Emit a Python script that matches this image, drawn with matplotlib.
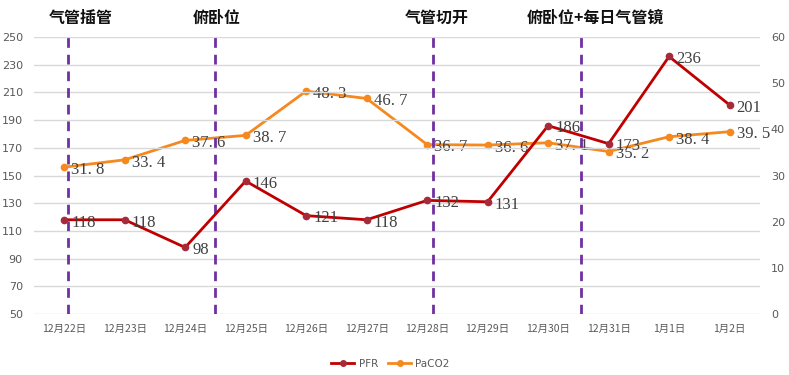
import matplotlib
matplotlib.use("Agg")
import matplotlib.pyplot as plt
from matplotlib.lines import Line2D

dates = ["12月22日", "12月23日", "12月24日", "12月25日", "12月26日", "12月27日",
         "12月28日", "12月29日", "12月30日", "12月31日", "1月1日", "1月2日"]
pfr = [118, 118, 98, 146, 121, 118, 132, 131, 186, 173, 236, 201]
paco2 = [31.8, 33.4, 37.6, 38.7, 48.3, 46.7, 36.7, 36.6, 37.1, 35.2, 38.4, 39.5]
event_pos = [0.07, 2.5, 6.1, 8.55]
event_labels = ["气管插管", "俯卧位", "气管切开", "俯卧位+每日气管镜"]
event_label_start = [-0.26, 2.13, 5.64, 7.65]
left_ticks = list(range(50, 251, 20))
right_ticks = list(range(0, 61, 10))

cjk = ["Noto Sans CJK SC", "DejaVu Sans"]
red = "#C00000"
red_m = "#A52A3A"
orange = "#F5891F"
purple = "#7030A0"

fig = plt.figure(figsize=(7.89, 3.75), dpi=100)
ax = fig.add_axes([0.043, 0.163, 0.920, 0.738])
ax2 = ax.twinx()

x = list(range(len(dates)))
ax.set_xlim(-0.5, len(dates) - 0.5)
ax.set_ylim(50, 250)
ax2.set_ylim(0, 60)
ax.set_yticks(left_ticks)
ax2.set_yticks(right_ticks)
for a in (ax, ax2):
    for s in a.spines.values():
        s.set_visible(False)
    a.tick_params(length=0, labelsize=8, colors="#595959")
ax.grid(axis="y", color="#D9D9D9", linewidth=1)
ax.set_axisbelow(True)
ax.set_xticks(x)
ax.set_xticklabels(dates, fontfamily=cjk, fontsize=7.5, color="#595959")
ax.tick_params(axis="x", pad=7)
ax.tick_params(axis="y", pad=8)
ax2.tick_params(axis="y", pad=8)

ax2.set_zorder(ax.get_zorder() - 1)
ax.patch.set_visible(False)

for p in event_pos:
    ax.axvline(p, color=purple, linestyle=(0, (3.5, 2.5)), linewidth=2, zorder=1)
for p, lab in zip(event_label_start, event_labels):
    ax.text(p, 1.07, lab, transform=ax.get_xaxis_transform(), fontfamily=cjk,
            fontsize=11.5, fontweight="bold", ha="left", va="center", color="#111111")

ax.plot(x, pfr, color=red, linewidth=2, marker="o", markersize=4.5,
        markerfacecolor=red_m, markeredgecolor=red_m, zorder=3)
ax2.plot(x, paco2, color=orange, linewidth=2, marker="o", markersize=4.5,
         markerfacecolor=orange, markeredgecolor=orange, zorder=3)

for xi, v in zip(x, pfr):
    ax.annotate(str(v), (xi, v), xytext=(5, -2), textcoords="offset points",
                fontfamily="Liberation Serif", fontsize=12, color="#404040",
                ha="left", va="center", zorder=4)
for xi, v in zip(x, paco2):
    ax2.annotate(f"{v:.1f}".replace(".", ". "), (xi, v), xytext=(5, -2),
                 textcoords="offset points", fontfamily="Liberation Serif",
                 fontsize=12, color="#404040", ha="left", va="center", zorder=4)

handles = [Line2D([], [], color=red, marker="o", markersize=4, markerfacecolor=red_m,
                  markeredgecolor=red_m, linewidth=2),
           Line2D([], [], color=orange, marker="o", markersize=4, linewidth=2)]
fig.legend(handles, ["PFR", "PaCO2"], loc="center", bbox_to_anchor=(0.495, 0.03),
           ncol=2, frameon=False, fontsize=7.5, handlelength=2.2, columnspacing=1.0,
           handletextpad=0.4, labelcolor="#595959")

fig.savefig("out.png", dpi=100)
